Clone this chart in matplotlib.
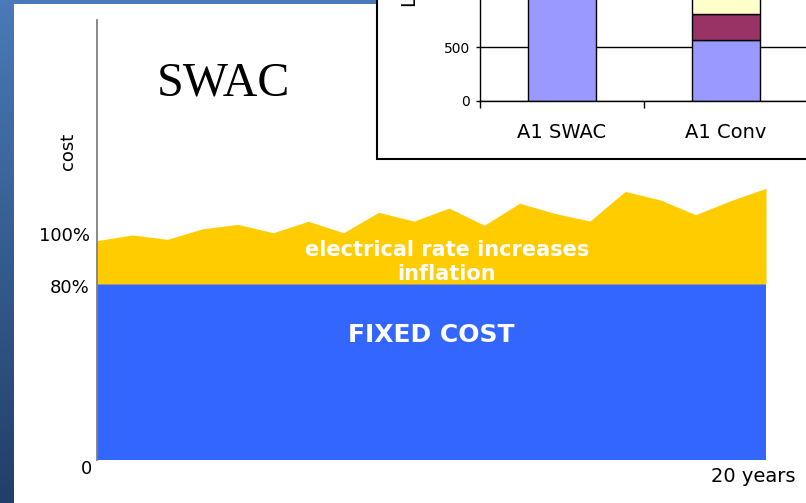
import numpy as np
import matplotlib.pyplot as plt
from matplotlib.patches import Rectangle

# Cost over the 20 year life (percent of base cost)
years = np.arange(20)
fixed_cost = [80] * 20
total_cost = [99.7, 102.3, 100.3, 105.1, 107.1, 103.3, 108.5, 103.3, 112.6, 108.6,
              114.5, 106.7, 116.7, 112.1, 108.6, 122.1, 118.2, 111.5, 117.9, 123.5]

# Life cycle cost comparison (inset)
options = ["A1 SWAC", "A1 Conv"]
capital = [1300, 568]
energy = [0, 244]
maintenance = [0, 400]

W, H = 806, 503


def px_box(x0, y0, x1, y1):
    # pixel box (top-left origin) -> figure fraction rect
    return [x0 / W, 1 - y1 / H, (x1 - x0) / W, (y1 - y0) / H]


fig = plt.figure(figsize=(W / 100, H / 100), dpi=100)
fig.patch.set_facecolor("white")

# slide border: gradient strip on the left and a bar along the top
strip = fig.add_axes(px_box(0, 0, 14, H))
grad = np.linspace(0, 1, 256).reshape(-1, 1)
c_top = np.array([74, 122, 184]) / 255
c_bot = np.array([33, 63, 104]) / 255
img = c_top + grad[..., None] * (c_bot - c_top)
strip.imshow(img, aspect="auto", extent=[0, 1, 0, 1])
strip.axis("off")
topbar = fig.add_axes(px_box(0, 0, 377, 3.5))
topbar.set_facecolor("#4a7ab8")
topbar.set_xticks([])
topbar.set_yticks([])
for s in topbar.spines.values():
    s.set_visible(False)

# main chart
ax = fig.add_axes(px_box(97, 20, 766, 460))
ax.set_facecolor("none")
ax.fill_between(years, 0, fixed_cost, color="#3366ff", lw=0)
ax.fill_between(years, fixed_cost, total_cost, color="#ffcc00", lw=0)
ax.set_xlim(0, 19)
ax.set_ylim(0, 200)
ax.set_xticks([])
ax.set_yticks([])
for side in ["top", "right", "bottom"]:
    ax.spines[side].set_visible(False)
ax.spines["left"].set_color("#808080")
ax.spines["left"].set_linewidth(1.3)

yt = ax.get_yaxis_transform()
ax.text(-0.0105, 101.8, "100%", transform=yt, ha="right", va="center", fontsize=13)
ax.text(-0.0105, 78.2, "80%", transform=yt, ha="right", va="center", fontsize=13)
ax.text(-0.0164, -4.3, "0", transform=yt, ha="center", va="center", fontsize=13, clip_on=False)
ax.text(0.918, -7.7, "20 years", transform=yt, ha="left", va="center", fontsize=14, clip_on=False)
ax.text(-0.044, 140.2, "cost", transform=yt, ha="center", va="center", rotation=90, fontsize=13)

ax.text(1.71, 165.9, "SWAC", family="Liberation Serif", fontsize=34.5, va="baseline", ha="left")
ax.text(9.94, 92.7, "electrical rate increases", color="white", fontweight="bold",
        fontsize=15, ha="center", va="baseline")
ax.text(9.94, 81.8, "inflation", color="white", fontweight="bold",
        fontsize=15, ha="center", va="baseline")
ax.text(9.49, 53.8, "FIXED COST", color="white", fontweight="bold",
        fontsize=18, ha="center", va="baseline")

# inset frame
frame = Rectangle((377 / W, 1 - 159 / H), 1, 1, transform=fig.transFigure,
                  facecolor="white", edgecolor="black", lw=1.5, zorder=0.5)
fig.add_artist(frame)

# inset stacked bars
ins = fig.add_axes(px_box(480, 100.7 - 160.2, 972, 100.7))
ins.set_zorder(1)
ins.set_facecolor("white")
xpos = np.arange(len(options))
bw = 0.41
ins.bar(xpos, capital, bw, color="#9999ff", edgecolor="black", lw=1, zorder=2)
ins.bar(xpos, energy, bw, bottom=capital, color="#993366", edgecolor="black", lw=1, zorder=2)
bottom2 = np.array(capital) + np.array(energy)
ins.bar(xpos, maintenance, bw, bottom=bottom2, color="#ffffcc", edgecolor="black", lw=1, zorder=2)
ins.set_xlim(-0.5, 2.5)
ins.set_ylim(0, 1500)
ins.set_yticks([0, 500])
ins.yaxis.grid(True, color="black", lw=1)
ins.set_axisbelow(True)
ins.set_xticks(xpos)
ins.set_xticklabels(options, fontsize=14)
ins.set_xticks([-0.5, 0.5, 1.5, 2.5], minor=True)
ins.tick_params(axis="x", which="major", length=0, pad=16)
ins.tick_params(axis="x", which="minor", length=5, width=1, color="black")
ins.tick_params(axis="y", length=3, width=1, pad=4, labelsize=10)
for side in ["top", "right"]:
    ins.spines[side].set_visible(False)
for side in ["left", "bottom"]:
    ins.spines[side].set_color("black")
    ins.spines[side].set_linewidth(1)
fig.text(411 / W, 1 - 7 / H, "Life Cycle Cost", rotation=90, ha="center", va="bottom", fontsize=14)

fig.savefig("out.png", dpi=100)
